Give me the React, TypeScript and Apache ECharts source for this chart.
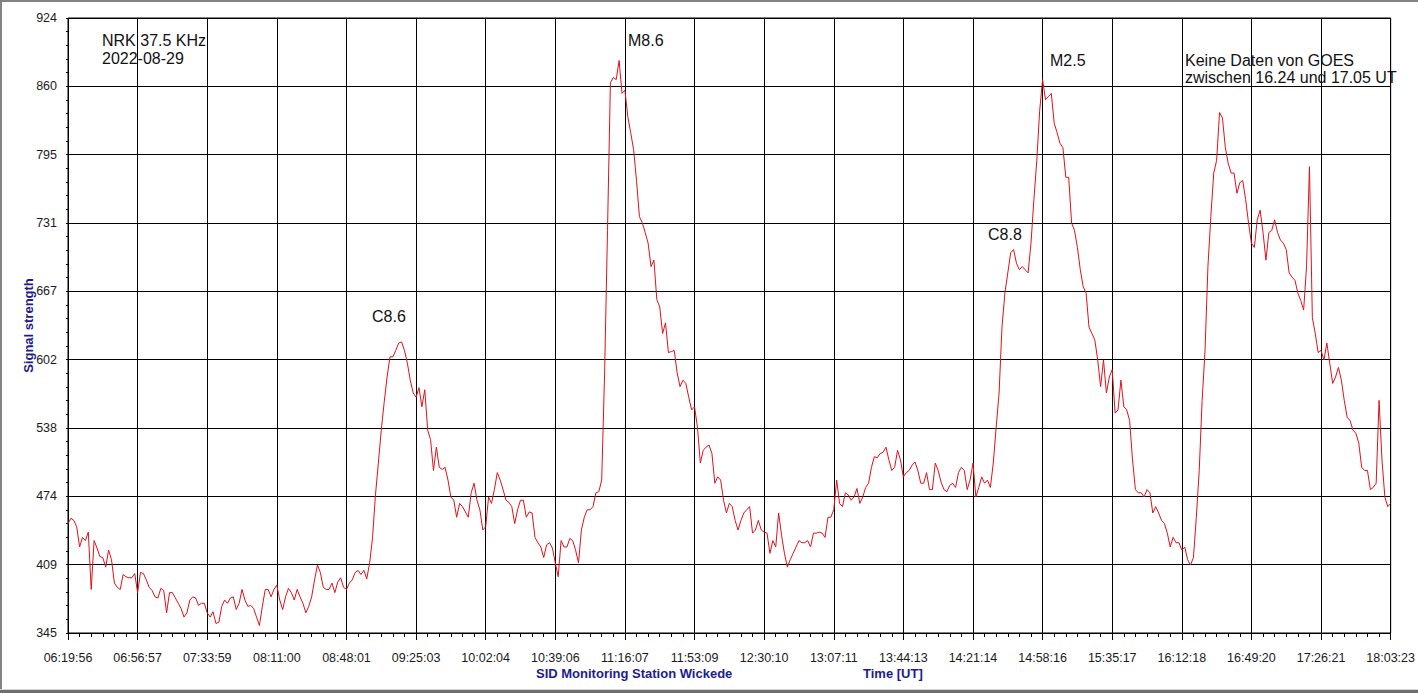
import React, { useEffect, useRef } from "react";
import * as echarts from "echarts";

const FONT = '"Liberation Sans", Arial, sans-serif';

const xTickLabels = [
  "06:19:56", "06:56:57", "07:33:59", "08:11:00", "08:48:01", "09:25:03", "10:02:04",
  "10:39:06", "11:16:07", "11:53:09", "12:30:10", "13:07:11", "13:44:13", "14:21:14",
  "14:58:16", "15:35:17", "16:12:18", "16:49:20", "17:26:21", "18:03:23",
];

const yTickLabels = ["345", "409", "474", "538", "602", "667", "731", "795", "860", "924"];
const yMin = 345;
const yMax = 924;

// samples per time division (between two neighbouring x tick labels)
const samplesPerDivision = 24;

// Signal strength, sampled evenly from 06:19:56 to 18:03:23 (one row per time division)
const signal = [
  448, 453, 451, 445, 426, 435, 432, 440, 386, 432, 425, 417, 416, 407, 423, 414, 392, 388, 386, 400, 398, 397, 397, 401, 383,
  402, 401, 395, 388, 385, 379, 378, 387, 385, 364, 383, 383, 378, 373, 368, 360, 364, 376, 379, 378, 371, 373, 373, 364,
  360, 365, 354, 355, 370, 376, 373, 378, 379, 367, 373, 386, 376, 370, 371, 368, 360, 352, 370, 386, 386, 379, 386, 390,
  376, 367, 379, 387, 383, 376, 386, 379, 373, 364, 370, 379, 395, 409, 402, 388, 386, 386, 392, 383, 393, 397, 388, 386,
  392, 395, 402, 404, 400, 404, 396, 411, 435, 475, 505, 536, 562, 586, 605, 605, 611, 618, 619, 611, 599, 583, 571, 567,
  576, 558, 574, 536, 527, 498, 520, 501, 499, 501, 489, 473, 470, 454, 467, 464, 459, 454, 477, 486, 470, 461, 442, 445,
  473, 467, 480, 496, 489, 480, 470, 468, 464, 448, 461, 470, 470, 454, 459, 458, 435, 430, 426, 416, 428, 430, 425, 411,
  398, 432, 426, 426, 434, 432, 423, 411, 442, 454, 461, 461, 464, 477, 478, 489, 590, 724, 863, 868, 866, 884, 853, 856,
  831, 816, 800, 771, 737, 731, 722, 712, 690, 696, 659, 652, 627, 637, 609, 610, 611, 590, 577, 583, 580, 567, 555, 558,
  539, 505, 517, 520, 522, 514, 486, 492, 489, 470, 458, 467, 464, 451, 442, 451, 458, 461, 464, 439, 442, 451, 442, 440,
  439, 420, 432, 426, 458, 437, 420, 407, 414, 420, 426, 432, 430, 430, 432, 426, 439, 439, 440, 439, 435, 454, 454, 461,
  489, 467, 464, 477, 475, 470, 473, 481, 467, 473, 482, 486, 501, 511, 510, 514, 515, 520, 508, 498, 501, 517, 508, 492,
  496, 498, 503, 506, 498, 486, 486, 496, 480, 480, 505, 498, 487, 480, 478, 484, 486, 482, 496, 501, 498, 480, 489, 505,
  473, 482, 492, 486, 489, 482, 505, 539, 571, 633, 665, 684, 703, 706, 693, 687, 690, 687, 684, 712, 753, 790, 837, 866,
  847, 850, 853, 825, 816, 806, 802, 774, 774, 731, 724, 708, 687, 671, 665, 633, 627, 621, 602, 577, 602, 571, 586, 593,
  552, 555, 583, 558, 555, 545, 508, 480, 477, 477, 473, 480, 477, 458, 464, 458, 451, 448, 439, 426, 435, 430, 430, 423,
  426, 414, 409, 416, 454, 498, 564, 611, 690, 737, 778, 790, 835, 830, 802, 787, 778, 778, 759, 769, 771, 753, 731, 712,
  708, 734, 743, 722, 696, 722, 724, 734, 722, 715, 712, 706, 684, 680, 677, 665, 658, 649, 690, 784, 642, 627, 609, 611,
  602, 618, 599, 580, 586, 595, 583, 564, 548, 545, 536, 533, 524, 501, 498, 498, 480, 482, 486, 564, 508, 473, 464, 467,
];

const headerLines = ["NRK 37.5 KHz", "2022-08-29"];
const flareLabels = ["C8.6", "M8.6", "C8.8", "M2.5"];
const noteLines = ["Keine Daten von GOES", "zwischen 16.24 und 17.05 UT"];
const footerLeft = "SID Monitoring Station Wickede";
const footerRight = "Time [UT]";

export default function App() {
  const ref = useRef<HTMLDivElement>(null);

  useEffect(() => {
    document.body.style.margin = "0";
    const chart = echarts.init(ref.current as HTMLDivElement, null, { renderer: "svg" });
    const ySpan = yMax - yMin;
    const yStep = ySpan / (yTickLabels.length - 1);
    const xMax = (xTickLabels.length - 1) * samplesPerDivision;
    const data = signal.map((v, i) => [i, v - yMin]);

    const txt = (text: string, x: number, y: number, size = 16) => ({
      type: "text",
      x,
      y,
      z: 100,
      silent: true,
      style: {
        text,
        font: `${size}px ${FONT}`,
        fill: "#111",
        verticalAlign: "middle",
        align: "left",
      },
    });
    const blueTxt = (text: string, x: number, y: number) => ({
      type: "text",
      x,
      y,
      z: 100,
      silent: true,
      style: {
        text,
        font: `bold 13px ${FONT}`,
        fill: "#1c1c8f",
        verticalAlign: "middle",
        align: "left",
      },
    });

    chart.setOption({
      animation: false,
      backgroundColor: "#fff",
      textStyle: { fontFamily: FONT },
      grid: {
        left: 68,
        top: 18,
        width: 1324,
        height: 615,
        show: true,
        borderColor: "#000",
        borderWidth: 1,
        backgroundColor: "#fff",
      },
      xAxis: {
        type: "value",
        min: 0,
        max: xMax,
        interval: samplesPerDivision,
        offset: 5,
        axisLine: { show: false },
        axisTick: { show: true, length: 7, lineStyle: { color: "#000", width: 1 } },
        minorTick: { show: true, splitNumber: 6, length: 4, lineStyle: { color: "#000", width: 1 } },
        splitLine: { show: true, lineStyle: { color: "#000", width: 1 } },
        minorSplitLine: { show: false },
        axisLabel: {
          margin: 13,
          fontSize: 12.5,
          color: "#1a1a1a",
          fontFamily: FONT,
          formatter: (v: number) => xTickLabels[Math.round(v / samplesPerDivision)] ?? "",
        },
      },
      yAxis: {
        type: "value",
        min: 0,
        max: ySpan,
        interval: yStep,
        offset: 4,
        name: "Signal strength",
        nameLocation: "middle",
        nameGap: 29,
        nameMoveOverlap: false,
        nameTextStyle: { color: "#1c1c8f", fontWeight: "bold", fontSize: 13, fontFamily: FONT },
        axisLine: { show: false },
        axisTick: { show: true, length: 2, lineStyle: { color: "#000", width: 1 } },
        minorTick: { show: true, splitNumber: 5, length: 2, lineStyle: { color: "#000", width: 1 } },
        splitLine: { show: true, lineStyle: { color: "#000", width: 1 } },
        minorSplitLine: { show: false },
        axisLabel: {
          margin: 7,
          fontSize: 12.5,
          color: "#1a1a1a",
          fontFamily: FONT,
          formatter: (v: number) => yTickLabels[Math.round(v / yStep)] ?? "",
        },
      },
      series: [
        {
          type: "line",
          data,
          symbol: "none",
          showSymbol: false,
          silent: true,
          lineStyle: { color: "#e3101a", width: 1 },
          itemStyle: { color: "#e3101a" },
        },
      ],
      graphic: [
        { type: "rect", shape: { x: 0, y: 0, width: 1418, height: 2 }, style: { fill: "#838383" }, silent: true },
        { type: "rect", shape: { x: 0, y: 0, width: 2, height: 689 }, style: { fill: "#838383" }, silent: true },
        { type: "rect", shape: { x: 0, y: 689, width: 1418, height: 1 }, style: { fill: "#d6d6d6" }, silent: true },
        { type: "rect", shape: { x: 0, y: 690, width: 1418, height: 3 }, style: { fill: "#6e6e6e" }, silent: true },
        txt(headerLines[0], 102, 40),
        txt(headerLines[1], 102, 58),
        txt(flareLabels[0], 372, 316),
        txt(flareLabels[1], 628, 40),
        txt(flareLabels[2], 988, 234),
        txt(flareLabels[3], 1050, 60),
        txt(noteLines[0], 1185, 60),
        txt(noteLines[1], 1185, 77),
        blueTxt(footerLeft, 536, 673),
        blueTxt(footerRight, 863, 673),
      ],
    });

    return () => chart.dispose();
  }, []);

  return (
    <div
      ref={ref}
      style={{ position: "fixed", left: 0, top: 0, width: 1418, height: 693, background: "#fff" }}
    />
  );
}
